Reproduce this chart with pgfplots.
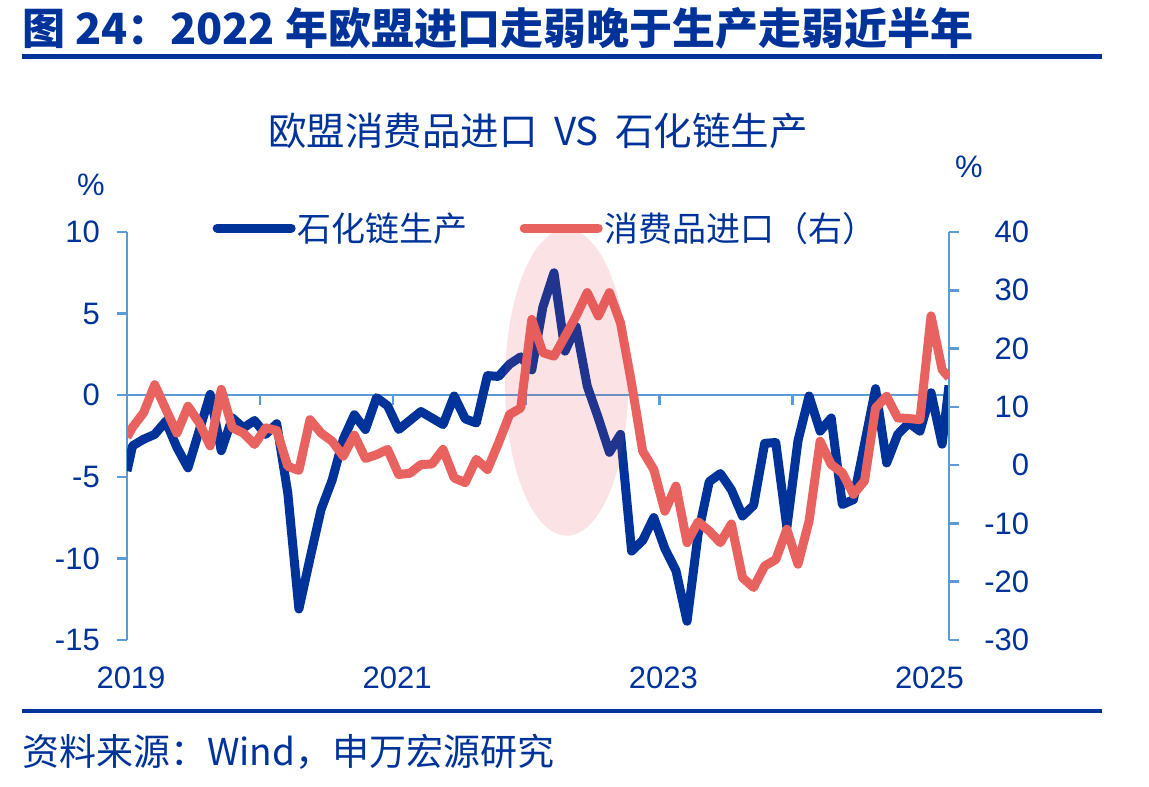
\documentclass[border=0pt]{standalone}
\usepackage{pgfplots}
\pgfplotsset{compat=1.18}
\usepackage{fontspec}
\setmainfont{Liberation Sans}
\newfontfamily\cjk{Noto Sans CJK SC}
\definecolor{navy}{RGB}{0,51,153}
\definecolor{redl}{RGB}{232,98,95}
\definecolor{axb}{RGB}{91,155,213}
\definecolor{pinkfill}{RGB}{225,70,80}

\pgfplotstableread{
x y
0 -4.65
0.5 -3.1
1.5 -2.7
2.5 -2.4
3.5 -1.6
4.5 -3.2
5.5 -4.45
6.5 -2.2
7.5 0.05
8.5 -3.4
9.5 -1.4
10.5 -2.0
11.5 -1.55
12.5 -2.4
13.5 -1.75
14.5 -6.0
15.5 -13.1
16.5 -10.0
17.5 -7.0
18.5 -5.2
19.5 -2.7
20.5 -1.2
21.5 -2.1
22.5 -0.15
23.5 -0.65
24.5 -2.1
25.5 -1.55
26.5 -1.0
27.5 -1.4
28.5 -1.8
29.5 -0.05
30.5 -1.45
31.5 -1.7
32.5 1.2
33.5 1.15
34.5 1.9
35.5 2.35
36.5 1.55
37.5 5.4
38.5 7.5
39.5 2.7
40.5 4.2
41.5 0.55
42.5 -1.4
43.5 -3.5
44.5 -2.4
45.5 -9.55
46.5 -8.9
47.5 -7.5
48.5 -9.4
49.5 -10.75
50.5 -13.85
51.5 -8.5
52.5 -5.3
53.5 -4.8
54.5 -5.8
55.5 -7.4
56.5 -6.75
57.5 -2.95
58.5 -2.9
59.5 -8.1
60.5 -2.8
61.5 -0.05
62.5 -2.2
63.5 -1.4
64.5 -6.7
65.5 -6.4
66.5 -3.0
67.5 0.4
68.5 -4.15
69.5 -2.4
70.5 -1.7
71.5 -2.2
72.5 0.15
73.5 -3.0
74.12 0.6
}\prodtable

\pgfplotstableread{
x y
0 4.8
0.5 6.5
1.5 9.0
2.5 13.8
3.5 9.6
4.5 5.5
5.5 10.1
6.5 7.3
7.5 3.3
8.5 13.0
9.5 6.4
10.5 5.5
11.5 3.55
12.5 6.4
13.5 5.95
14.5 -0.2
15.5 -0.9
16.5 7.8
17.5 5.5
18.5 4.1
19.5 1.55
20.5 5.15
21.5 1.15
22.5 1.8
23.5 2.7
24.5 -1.6
25.5 -1.4
26.5 0.1
27.5 0.2
28.5 2.7
29.5 -2.2
30.5 -3.0
31.5 1.0
32.5 -0.75
33.5 3.8
34.5 8.7
35.5 9.8
36.5 25.0
37.5 19.3
38.5 18.7
39.5 22.1
40.5 25.6
41.5 29.6
42.5 25.6
43.5 29.6
44.5 24.4
45.5 14.0
46.5 2.4
47.5 -0.75
48.5 -7.9
49.5 -3.6
50.5 -13.3
51.5 -9.7
52.5 -11.3
53.5 -13.3
54.5 -10.1
55.5 -19.3
56.5 -21.0
57.5 -17.3
58.5 -16.2
59.5 -11.0
60.5 -17.0
61.5 -9.6
62.5 4.1
63.5 0.1
64.5 -1.3
65.5 -5.0
66.5 -2.7
67.5 9.8
68.5 11.8
69.5 8.1
70.5 8.0
71.5 7.8
72.5 25.6
73.5 16.4
74.12 15.0
}\imptable

\begin{document}
\begin{tikzpicture}
\path[use as bounding box] (0pt,0pt) rectangle (1149pt,-787pt);
% figure title
\node[anchor=base west, inner sep=0pt, text=navy, font={\cjk\bfseries\fontsize{43pt}{44pt}\selectfont}] at (22pt,-44pt) {图 24：2022 年欧盟进口走弱晚于生产走弱近半年};
\fill[navy] (22pt,-54pt) rectangle (1102pt,-59pt);
\fill[navy] (22pt,-709pt) rectangle (1102pt,-713pt);
% source
\node[anchor=west, inner sep=0pt, text=navy, font={\cjk\fontsize{37pt}{38pt}\selectfont}] at (22pt,-752pt) {资料来源：Wind，申万宏源研究};
% chart title
\node[inner sep=0pt, text=navy, font={\cjk\fontsize{38.5pt}{39pt}\selectfont}] at (538pt,-131pt) {欧盟消费品进口\hspace{8pt} VS \hspace{8pt}石化链生产};
% unit labels
\node[inner sep=0pt, text=navy, font={\fontsize{31pt}{32pt}\selectfont}] at (91pt,-185pt) {\%};
\node[inner sep=0pt, text=navy, font={\fontsize{31pt}{32pt}\selectfont}] at (969pt,-167pt) {\%};

\begin{axis}[
  at={(127pt,-640pt)}, anchor=south west,
  scale only axis, width=822pt, height=408pt,
  xmin=0, xmax=74.12, ymin=-15, ymax=10,
  axis y line*=left, axis x line*=middle,
  axis line style={draw=axb, line width=2.5pt, -},
  ytick={-15,-10,-5,0,5,10},
  xtick={0,12,24,36,48,60,72}, xticklabels={},
  tick style={draw=axb, line width=2.5pt},
  tick align=outside, major tick length=10pt,
  /pgf/number format/assume math mode=true,
  yticklabel style={font={\fontsize{31pt}{32pt}\selectfont}, text=navy, inner xsep=0pt, xshift=-17pt},
]
\addplot[navy, line width=9pt, line join=round] table[x=x,y=y] {\prodtable};
\end{axis}

\begin{axis}[
  at={(127pt,-640pt)}, anchor=south west,
  scale only axis, width=822pt, height=408pt,
  xmin=0, xmax=74.12, ymin=-30, ymax=40,
  axis y line*=right, axis x line*=bottom,
  axis line style={draw=axb, line width=2.5pt, -},
  x axis line style={draw=none},
  ytick={-30,-20,-10,0,10,20,30,40},
  xtick={0,24,48,72}, xticklabels={2019,2021,2023,2025},
  xtick style={draw=none},
  ytick style={draw=axb, line width=2.5pt},
  tick align=outside, major tick length=10pt,
  /pgf/number format/assume math mode=true,
  yticklabel style={font={\fontsize{31pt}{32pt}\selectfont}, text=navy, inner xsep=0pt, text width=56pt, align=right, xshift=14pt},
  xticklabel style={font={\fontsize{31pt}{32pt}\selectfont}, text=navy, inner ysep=0pt, xshift=4pt, yshift=-17pt},
  legend columns=2,
  legend image code/.code={\draw[#1, line cap=round] (0pt,0pt) -- (74pt,0pt);},
  legend style={at={(0.104,1.0098)}, anchor=west, draw=none, fill=none, inner sep=0pt,
    font={\cjk\fontsize{34pt}{35pt}\selectfont}, text=navy,
    /tikz/every even column/.append style={column sep=50pt}},
]
\addlegendimage{navy, line width=9pt}
\addlegendentry{石化链生产}
\addplot[redl, line width=9pt, line join=round] table[x=x,y=y] {\imptable};
\addlegendentry{消费品进口（右）}
\fill[pinkfill, opacity=0.15] (axis cs:39.65,14.2) ellipse [x radius=61.7pt, y radius=153.3pt];
\end{axis}
\end{tikzpicture}
\end{document}
